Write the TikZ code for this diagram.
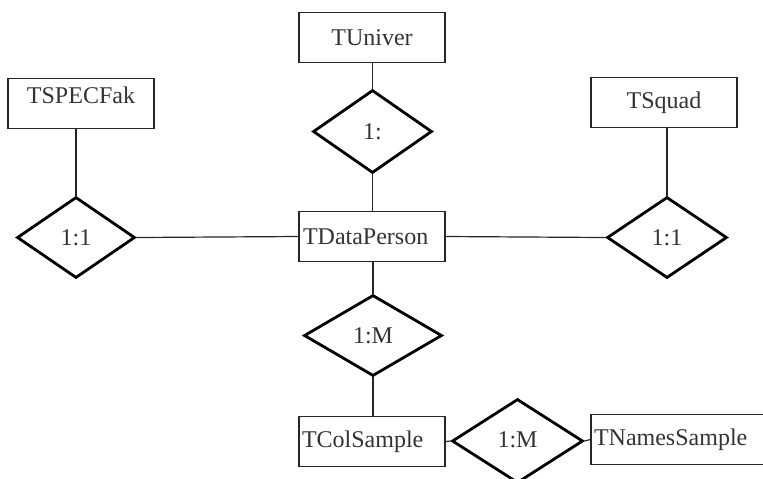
\documentclass[tikz,border=0pt]{standalone}
\usepackage{fontspec}
\setmainfont{Liberation Serif}
\usepackage{tikz}
\usetikzlibrary{shapes.geometric}
\tikzset{
	entity/.style   = {shape=rectangle, draw=black!85, line width=0.6pt,
		minimum width=73pt, minimum height=25pt, inner sep=0pt,
		text=black!80, font=\fontsize{12}{14}\selectfont},
	entityhigh/.style = {entity, text height=10pt, text depth=10pt, inner ysep=2.5pt},
	entityleft/.style = {entity, align=left, text width=70pt},
	rel/.style      = {shape=diamond, draw=black, line width=1.4pt,
		inner sep=0pt, text=black!80, font=\fontsize{12}{14}\selectfont},
	link/.style     = {draw=black!85, line width=0.6pt}
}

\begin{document}
\begin{tikzpicture}[x=0.5pt, y=-0.5pt]
\clip (0,0) rectangle (763,478);
\useasboundingbox (0,0) rectangle (763,478);
% entities
\node [entity]     (univ)  at (372,37.5)  {TUniver};
\node [entityhigh] (spec)  at (81,103.5)  {TSPECFak};
\node [entity]     (squad) at (664,102.5) {TSquad};
\node [entity, align=left, text width=69pt] (data) at (372,236.5) {TDataPerson};
\node [entityleft] (col)   at (372,441.5) {TColSample};
\node [entity, minimum width=90pt, align=left, text width=87pt] (names) at (681,439.5) {TNamesSample};
% relations
\node [rel, minimum width=59.5pt, minimum height=41.5pt] (rUniv)  at (372.5,131.5) {1:};
\node [rel, minimum width=59pt, minimum height=40.5pt]   (rSpec)  at (76,237.5)    {1:1};
\node [rel, minimum width=60pt, minimum height=40.5pt]   (rSquad) at (667,237.5)   {1:1};
\node [rel, minimum width=69pt, minimum height=40.5pt]   (rCol)   at (373,335.5)   {1:M};
\node [rel, minimum width=65.5pt, minimum height=42pt]   (rNames) at (517.5,441)   {\raisebox{1pt}{1:M}};
% links
\draw [link] (rUniv.north |- univ.south) -- (rUniv.north);
\draw [link] (rUniv.south) -- (rUniv.south |- data.north);
\draw [link] (rSpec.north) -- (rSpec.north |- spec.south);
\draw [link] (rSpec.east) -- (data.west);
\draw [link] (data.east) -- (rSquad.west);
\draw [link] (rSquad.north) -- (rSquad.north |- squad.south);
\draw [link] (rCol.north |- data.south) -- (rCol.north);
\draw [link] (rCol.south) -- (rCol.south |- col.north);
\draw [link] (col.east) -- (rNames.west);
\draw [link] (rNames.east) -- (names.west);
\end{tikzpicture}
\end{document}
